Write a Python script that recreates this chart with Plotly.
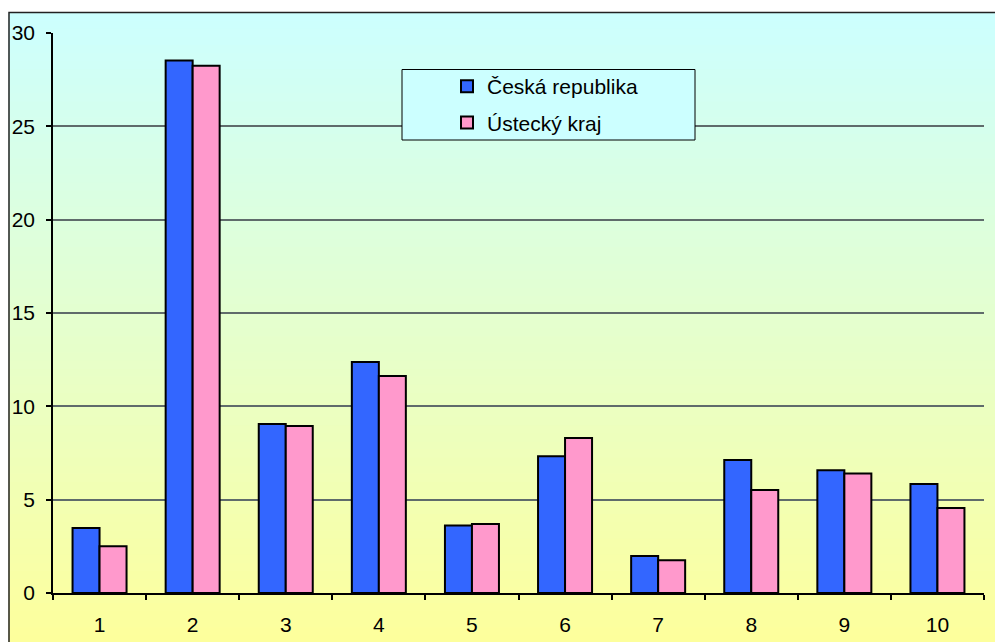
import plotly.graph_objects as go

categories = ["1", "2", "3", "4", "5", "6", "7", "8", "9", "10"]
ceska_republika = [3.48, 28.53, 9.05, 12.37, 3.61, 7.32, 1.98, 7.12, 6.57, 5.84]
ustecky_kraj = [2.50, 28.25, 8.94, 11.62, 3.70, 8.30, 1.75, 5.52, 6.40, 4.55]
series_names = ["Česká republika", "Ústecký kraj"]
y_ticks = [0, 5, 10, 15, 20, 25, 30]

W, H = 995, 642
PL, PR, PT, PB = 53, 984, 33, 593          # plot area in page pixels
ML, MR, MT, MB = PL, W - PR, PT, H - PB
PW, PH = PR - PL, PB - PT

def px_x(px):
    return (px - PL) / PW

def px_y(py):
    return (PB - py) / PH

FONT = "Liberation Sans, Arial, sans-serif"

fig = go.Figure()
fig.add_trace(go.Bar(
    x=categories, y=ceska_republika, name=series_names[0],
    marker=dict(color="#3366FF", line=dict(color="#000000", width=2)),
    legendgroup="a",
))
fig.add_trace(go.Bar(
    x=categories, y=ustecky_kraj, name=series_names[1],
    marker=dict(color="#FF99CC", line=dict(color="#000000", width=2)),
    legendgroup="b",
))

# gradient background (cyan -> yellow), built from thin bands
shapes = []
top_py, bot_py = 12.5, 660.0
n = 80
c0 = (204, 255, 255)
c1 = (255, 255, 153)
for i in range(n):
    f = (i + 0.5) / n
    col = tuple(round(c0[k] + (c1[k] - c0[k]) * f) for k in range(3))
    y_a = top_py + (bot_py - top_py) * i / n
    y_b = top_py + (bot_py - top_py) * (i + 1) / n + 0.8
    shapes.append(dict(
        type="rect", xref="paper", yref="paper",
        x0=px_x(8.5), x1=px_x(1010), y0=px_y(min(y_b, 700)), y1=px_y(y_a),
        fillcolor="rgb(%d,%d,%d)" % col, line=dict(width=0), layer="below",
    ))
# outer frame (left and top edges visible)
shapes.append(dict(
    type="rect", xref="paper", yref="paper",
    x0=px_x(9), x1=px_x(1010), y0=px_y(700), y1=px_y(12.5),
    fillcolor="rgba(0,0,0,0)", line=dict(color="#222222", width=1.5), layer="below",
))
# legend box
shapes.append(dict(
    type="rect", xref="paper", yref="paper",
    x0=px_x(402), x1=px_x(695), y0=px_y(140), y1=px_y(69.5),
    fillcolor="#CCFFFF", line=dict(color="#000000", width=1), layer="above",
))

fig.update_layout(
    width=W, height=H, autosize=False,
    margin=dict(l=ML, r=MR, t=MT, b=MB, pad=0, autoexpand=False),
    paper_bgcolor="#FFFFFF",
    plot_bgcolor="rgba(0,0,0,0)",
    barmode="group", bargap=0.42, bargroupgap=0,
    font=dict(family=FONT, size=21, color="#000000"),
    shapes=shapes,
    showlegend=True,
    legend=dict(
        x=px_x(447), y=px_y(66), xanchor="left", yanchor="top",
        bgcolor="rgba(0,0,0,0)", borderwidth=0,
        font=dict(family=FONT, size=21, color="#000000"),
        traceorder="grouped", tracegroupgap=6,
    ),
    xaxis=dict(
        type="category", range=[-0.5, 9.5], automargin=False,
        showline=True, linecolor="#000000", linewidth=1.5,
        ticks="outside", tickson="boundaries", ticklen=5, tickcolor="#000000", tickwidth=1.5,
        ticklabelstandoff=12,
        showgrid=False, zeroline=False,
        tickfont=dict(family=FONT, size=21, color="#000000"),
    ),
    yaxis=dict(
        range=[0, 30], tickvals=y_ticks, automargin=False,
        showline=True, linecolor="#000000", linewidth=1.5,
        ticks="outside", ticklen=5, tickcolor="#000000", tickwidth=1.5,
        ticklabelstandoff=7,
        showgrid=True, gridcolor="#5F6B6B", gridwidth=1.5,
        zeroline=False,
        tickfont=dict(family=FONT, size=21, color="#000000"),
    ),
)

fig.write_html(
    "out.html",
    config=dict(displayModeBar=False),
    post_script="document.body.style.margin='0';document.body.style.overflow='hidden';",
)
